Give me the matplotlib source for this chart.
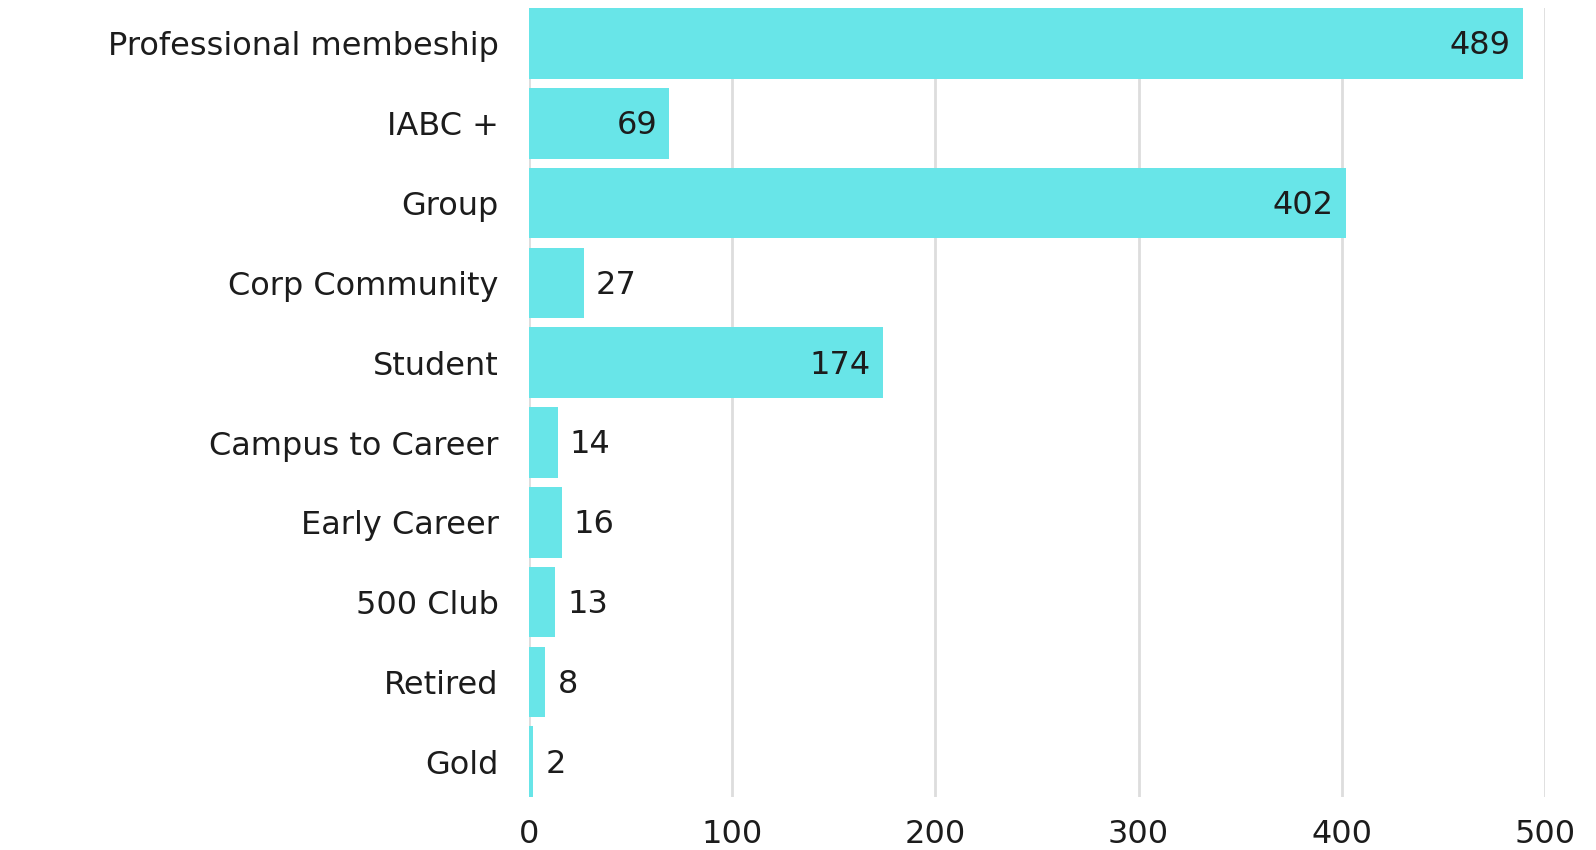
import matplotlib
matplotlib.use('Agg')
import matplotlib.pyplot as plt

categories = ['Professional membeship', 'IABC +', 'Group', 'Corp Community', 'Student',
              'Campus to Career', 'Early Career', '500 Club', 'Retired', 'Gold']
members = [489, 69, 402, 27, 174, 14, 16, 13, 8, 2]
x_ticks = [0, 100, 200, 300, 400, 500]

bar_color = '#68E5E8'
text_color = '#1c1c1c'
bar_h = 0.885

plt.rcParams['font.family'] = ['DejaVu Sans']

fig = plt.figure(figsize=(15.96, 8.5), dpi=100)
ax = fig.add_axes([0.3315, 0.0623, 0.6365, 0.9281])

pos = list(range(len(categories)))
ax.barh(pos, members, height=bar_h, color=bar_color, zorder=2)
ax.set_ylim(len(categories) - 1 + bar_h / 2, -bar_h / 2)
ax.set_xlim(0, 500)

# value labels: inside the long bars, outside the short ones
for y, v in zip(pos, members):
    if v > 50:
        ax.text(v - 6, y + 0.03, str(v), ha='right', va='center', fontsize=23, color=text_color, zorder=3)
    else:
        ax.text(v + 6, y + 0.03, str(v), ha='left', va='center', fontsize=23, color=text_color, zorder=3)

ax.set_yticks(pos)
ax.set_yticklabels(categories, fontsize=23, color=text_color)
ax.set_xticks(x_ticks)
ax.set_xticklabels([str(t) for t in x_ticks], fontsize=23, color=text_color)
ax.tick_params(axis='both', length=0)
ax.tick_params(axis='y', pad=22)
ax.tick_params(axis='x', pad=16)
ax.grid(axis='x', color='#dddddd', linewidth=2, zorder=1)
ax.set_axisbelow(True)
for s in ax.spines.values():
    s.set_visible(False)

fig.savefig('out.png', dpi=100)
